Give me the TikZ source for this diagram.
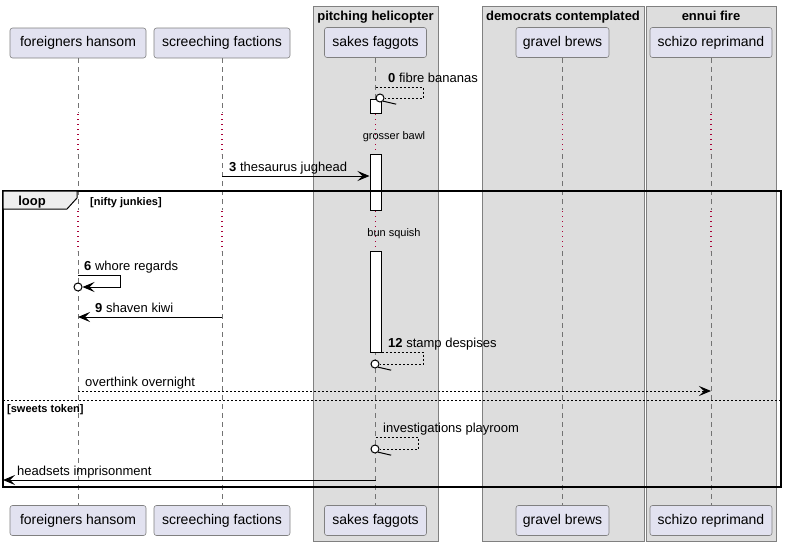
\documentclass[tikz,border=0pt]{standalone}
\usepackage{fontspec}
\setmainfont{Liberation Sans}
\usetikzlibrary{arrows.meta,positioning}

\definecolor{partfill}{RGB}{226,226,240}
\definecolor{boxfill}{RGB}{221,221,221}
\definecolor{edgegray}{RGB}{128,128,128}
\definecolor{delayred}{RGB}{168,0,54}
\definecolor{tabfill}{RGB}{238,238,238}

\tikzset{
  participant/.style={draw=edgegray, fill=partfill, rounded corners=2.5pt, line width=0.6pt,
    minimum height=30pt, inner xsep=0pt, font=\fontsize{14}{16}\selectfont},
  groupbox/.style={draw=edgegray, fill=boxfill, line width=0.6pt},
  grouptitle/.style={anchor=base, inner sep=0pt, font=\fontsize{13}{15}\selectfont\bfseries},
  lifeline/.style={draw=black!55, line width=0.6pt, dash pattern=on 5pt off 4pt},
  delaydots/.style={draw=delayred, line width=1.3pt, dash pattern=on 1.3pt off 3.7pt},
  activation/.style={draw=black, fill=white, line width=1pt, inner sep=0pt, minimum width=11pt},
  msg/.style={line width=1pt, -{Stealth[length=12pt,width=10pt,inset=5pt]}},
  dashmsg/.style={msg, dash pattern=on 2pt off 2pt},
  selfmsg/.style={line width=1pt, dash pattern=on 2pt off 2pt},
  msglabel/.style={anchor=base west, inner sep=0pt, font=\fontsize{13}{15}\selectfont},
  delaylabel/.style={anchor=base, inner sep=0pt, font=\fontsize{11}{13}\selectfont},
  guardlabel/.style={anchor=base west, inner sep=0pt, font=\fontsize{11}{13}\selectfont\bfseries},
  ringend/.style={circle, draw, line width=1pt, fill=white, inner sep=0pt, minimum size=8pt},
}

\begin{document}
\begin{tikzpicture}[x=1pt, y=-1pt]
  \useasboundingbox (0,0) rectangle (787,546);

  % Boxes round participants
  \draw[groupbox] (313,6) rectangle (438,541);
  \draw[groupbox] (482,6) rectangle (644,541);
  \draw[groupbox] (646,6) rectangle (776,541);
  \node (pitch)  [grouptitle] at (375.5,20) {pitching helicopter};
  \node (democ)  [grouptitle] at (563,20) {democrats contemplated};
  \node (ennui)  [grouptitle] at (711,20) {ennui fire};

  % Participants, top and bottom
  \node (fh) [participant, minimum width=136pt] at (78,43) {foreigners hansom};
  \node (sf) [participant, minimum width=136pt] at (222,43) {screeching factions};
  \node (sk) [participant, minimum width=102pt] at (375.5,42.5) {sakes faggots};
  \node (gb) [participant, minimum width=93pt]  at (562.5,42.5) {gravel brews};
  \node (sr) [participant, minimum width=122pt] at (711,42.5) {schizo reprimand};
  \node (fh-b) [participant, minimum width=136pt] at (78,520.5) {foreigners hansom};
  \node (sf-b) [participant, minimum width=136pt] at (222,520.5) {screeching factions};
  \node (sk-b) [participant, minimum width=102pt] at (375.5,520.5) {sakes faggots};
  \node (gb-b) [participant, minimum width=93pt]  at (562.5,520.5) {gravel brews};
  \node (sr-b) [participant, minimum width=122pt] at (711,520.5) {schizo reprimand};

  % Lifelines, dotted where the delays are
  \foreach \p in {fh,sf,sk,gb,sr} {
    \draw[lifeline]  (\p.south) -- (\p.south |- 0,113);
    \draw[delaydots] (\p.south |- 0,114) -- (\p.south |- 0,154);
    \draw[lifeline]  (\p.south |- 0,154) -- (\p.south |- 0,210);
    \draw[delaydots] (\p.south |- 0,211) -- (\p.south |- 0,251);
    \draw[lifeline]  (\p.south |- 0,251) -- (\p-b.north);
  }

  % Activation of sakes faggots
  \node (act1) [activation, minimum height=14pt]  at (375.5,106) {};
  \node (act2) [activation, minimum height=56pt]  at (375.5,182) {};
  \node (act3) [activation, minimum height=101pt] at (375.5,301.5) {};

  % Delays
  \node (bawl)   [delaylabel] at (394,139) {grosser bawl};
  \node (squish) [delaylabel] at (394,236) {bun squish};

  % 0 fibre bananas
  \node (ring0) [ringend] at (380,98) {};
  \draw[selfmsg] (sk.south |- 0,87) -- (423,87) -- (423,98) -- (ring0.east);
  \draw[line width=1pt] (ring0.south east) -- ++(13,3);
  \node (l0) [msglabel] at (388,82) {\textbf{0} fibre bananas};

  % 3 thesaurus jughead
  \draw[msg] (sf.south |- 0,176) -- (act2.west |- 0,176);
  \node (l3) [msglabel] at (229,171) {\textbf{3} thesaurus jughead};

  % 6 whore regards
  \node (ring6) [ringend] at (78,287) {};
  \draw[msg] (fh.south |- 0,275) -- (120,275) -- (120,287) -- (ring6.east);
  \node (l6) [msglabel] at (84,270) {\textbf{6} whore regards};

  % 9 shaven kiwi
  \draw[msg] (sf.south |- 0,317) -- (fh.south |- 0,317);
  \node (l9) [msglabel] at (95,312) {\textbf{9} shaven kiwi};

  % 12 stamp despises
  \node (ring12) [ringend] at (375,364) {};
  \draw[selfmsg] (act3.east |- 0,352) -- (423,352) -- (423,364) -- (ring12.east);
  \draw[line width=1pt] (ring12.south east) -- ++(13,3);
  \node (l12) [msglabel] at (388,347) {\textbf{12} stamp despises};

  % overthink overnight
  \draw[dashmsg] (fh.south |- 0,391) -- (sr.south |- 0,391);
  \node (lover) [msglabel] at (85,386) {overthink overnight};

  % investigations playroom
  \node (ringinv) [ringend] at (375,449) {};
  \draw[selfmsg] (sk.south |- 0,437) -- (418,437) -- (418,449) -- (ringinv.east);
  \draw[line width=1pt] (ringinv.south east) -- ++(13,3);
  \node (linv) [msglabel] at (383,432) {investigations playroom};

  % Loop frame
  \coordinate (frameleft) at (3,480);
  \draw[msg] (sk.south |- 0,480) -- (frameleft);
  \node (lhead) [msglabel] at (17,475) {headsets imprisonment};
  \draw[line width=1.5pt] (3,191) rectangle (781,487);
  \draw[line width=1pt, fill=tabfill] (3,191) -- (77,191) -- (77,198) -- (67,209) -- (3,209) -- cycle;
  \node (loop) [anchor=base, inner sep=0pt, font=\fontsize{13}{15}\selectfont\bfseries] at (32,205) {loop};
  \node (nifty) [guardlabel] at (90,205) {[nifty junkies]};
  \draw[line width=1pt, dash pattern=on 2pt off 2pt] (3,400) -- (781,400);
  \node (sweets) [guardlabel] at (7,412) {[sweets token]};
\end{tikzpicture}
\end{document}
